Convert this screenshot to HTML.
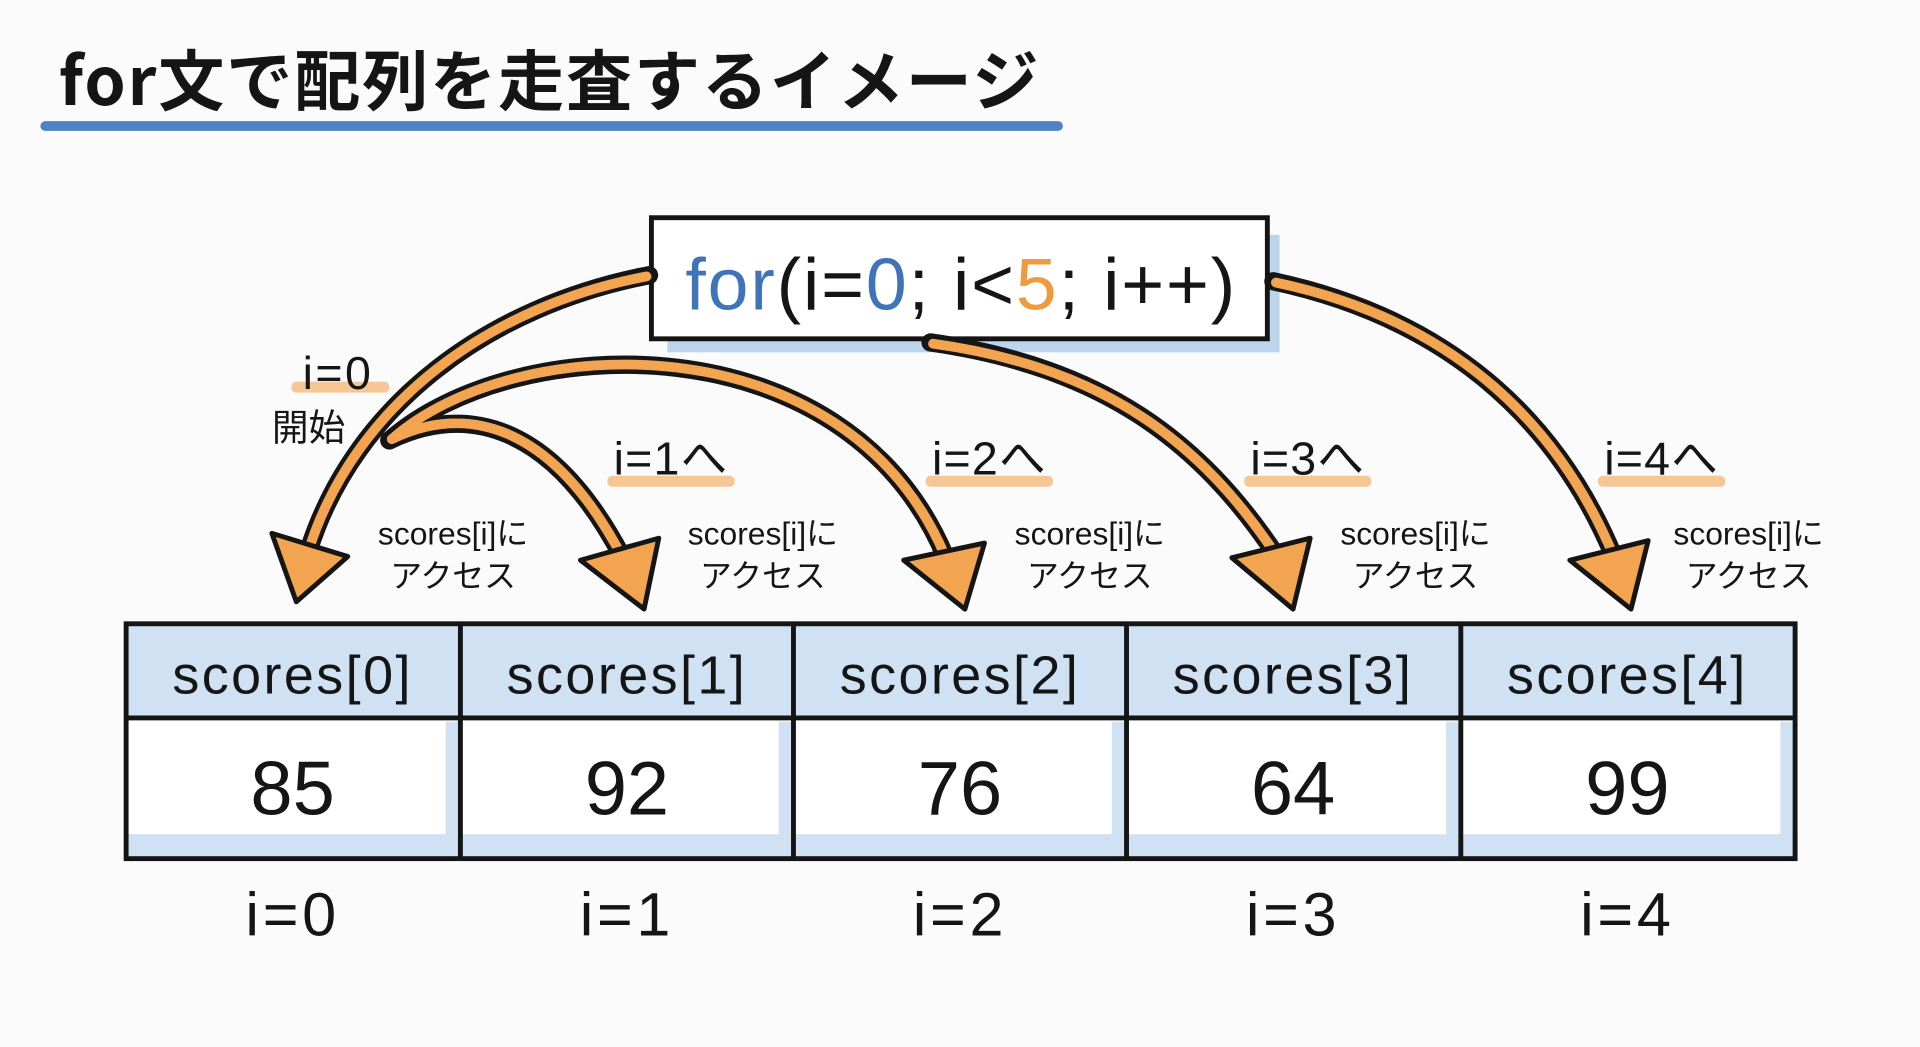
<!DOCTYPE html>
<html><head><meta charset="utf-8"><style>
html,body{margin:0;padding:0;background:#fbfbfc;}
svg{display:block}
text{font-family:"Liberation Sans","Noto Sans CJK JP",sans-serif;fill:#151515}
</style></head><body>
<svg width="1920" height="1047" viewBox="0 0 1568 856" preserveAspectRatio="none" xmlns="http://www.w3.org/2000/svg">
<rect width="1568" height="856" fill="#fbfbfc"/>
<text x="48" y="86" font-size="54" font-weight="bold" letter-spacing="1.5" style="font-family:'Noto Sans CJK JP','Liberation Sans',sans-serif">for文で配列を走査するイメージ</text>
<rect x="33" y="99" width="835" height="8" rx="4" fill="#4f82c4"/>

<!-- code box -->
<rect x="545" y="192" width="500" height="96" fill="#bcd4ec"/>
<rect x="532" y="178" width="503" height="99" fill="#fff" stroke="#151515" stroke-width="4"/>
<text x="785" y="253" font-size="60" letter-spacing="1.5" text-anchor="middle"><tspan fill="#3f74b8">for</tspan>(i=<tspan fill="#3f74b8">0</tspan>; i&lt;<tspan fill="#ef9a3f">5</tspan>; i++)</text>

<!-- arrows -->
<g fill="none" stroke-linecap="round">
<g stroke="#151515" stroke-width="15">
<path d="M530,225 C400,250 290,330 252,450"/>
<path d="M318,360 C380,330 450,345 508,455"/>
<path d="M318,360 C420,270 690,260 772,455"/>
<path d="M760,280 C900,300 980,360 1043,455"/>
<path d="M1040,230 C1180,260 1270,340 1318,455"/>
</g>
<g stroke="#f2a450" stroke-width="8">
<path d="M528,226 C400,250 290,330 252,450"/>
<path d="M320,359 C380,330 450,345 508,455"/>
<path d="M320,359 C420,270 690,260 772,455"/>
<path d="M762,281 C900,300 980,360 1043,455"/>
<path d="M1042,231 C1180,260 1270,340 1318,455"/>
</g>
</g>
<g fill="#f2a450" stroke="#151515" stroke-width="4" stroke-linejoin="round">
<polygon points="222,436 284,455 242,492"/>
<polygon points="474,458 538,440 526,498"/>
<polygon points="738,458 804,444 788,498"/>
<polygon points="1006,456 1070,440 1056,498"/>
<polygon points="1282,458 1346,442 1332,498"/>
</g>

<!-- labels -->
<rect x="238" y="312" width="80" height="9" rx="4" fill="#f6c795"/>
<text x="276" y="318" font-size="38" letter-spacing="2" text-anchor="middle">i=0</text>
<text x="252" y="360" font-size="30" text-anchor="middle" style="font-family:'Noto Sans CJK JP',sans-serif">開始</text>
<g font-size="38" letter-spacing="1" text-anchor="middle">
<rect x="496" y="389" width="104" height="9" rx="4" fill="#f6c795"/>
<text x="548" y="388">i=1へ</text>
<rect x="756" y="389" width="104" height="9" rx="4" fill="#f6c795"/>
<text x="808" y="388">i=2へ</text>
<rect x="1016" y="389" width="104" height="9" rx="4" fill="#f6c795"/>
<text x="1068" y="388">i=3へ</text>
<rect x="1305" y="389" width="104" height="9" rx="4" fill="#f6c795"/>
<text x="1357" y="388">i=4へ</text>
</g>
<g font-size="26" text-anchor="middle">
<text x="370" y="445">scores[i]に</text><text x="370" y="480">アクセス</text>
<text x="623" y="445">scores[i]に</text><text x="623" y="480">アクセス</text>
<text x="890" y="445">scores[i]に</text><text x="890" y="480">アクセス</text>
<text x="1156" y="445">scores[i]に</text><text x="1156" y="480">アクセス</text>
<text x="1428" y="445">scores[i]に</text><text x="1428" y="480">アクセス</text>
</g>

<!-- table -->
<rect x="103" y="510" width="1363" height="77" fill="#cfe1f2"/>
<rect x="103" y="587" width="1363" height="115" fill="#fff"/>
<g fill="#cfe1f2">
<rect x="103" y="682" width="1363" height="18"/>
<rect x="364" y="590" width="10" height="110"/>
<rect x="636" y="590" width="10" height="110"/>
<rect x="908" y="590" width="10" height="110"/>
<rect x="1181" y="590" width="10" height="110"/>
<rect x="1454" y="590" width="10" height="110"/>
</g>
<g stroke="#151515" stroke-width="4" fill="none">
<rect x="103" y="510" width="1363" height="192"/>
<line x1="103" y1="587" x2="1466" y2="587"/>
<line x1="376" y1="510" x2="376" y2="702"/>
<line x1="648" y1="510" x2="648" y2="702"/>
<line x1="920" y1="510" x2="920" y2="702"/>
<line x1="1193" y1="510" x2="1193" y2="702"/>
</g>
<g font-size="44" letter-spacing="2" text-anchor="middle">
<text x="239" y="567">scores[0]</text>
<text x="512" y="567">scores[1]</text>
<text x="784" y="567">scores[2]</text>
<text x="1056" y="567">scores[3]</text>
<text x="1329" y="567">scores[4]</text>
</g>
<g font-size="62" text-anchor="middle">
<text x="239" y="666">85</text>
<text x="512" y="666">92</text>
<text x="784" y="666">76</text>
<text x="1056" y="666">64</text>
<text x="1329" y="666">99</text>
</g>
<g font-size="50" letter-spacing="3" text-anchor="middle">
<text x="239" y="765">i=0</text>
<text x="512" y="765">i=1</text>
<text x="784" y="765">i=2</text>
<text x="1056" y="765">i=3</text>
<text x="1329" y="765">i=4</text>
</g>
</svg>
</body></html>
